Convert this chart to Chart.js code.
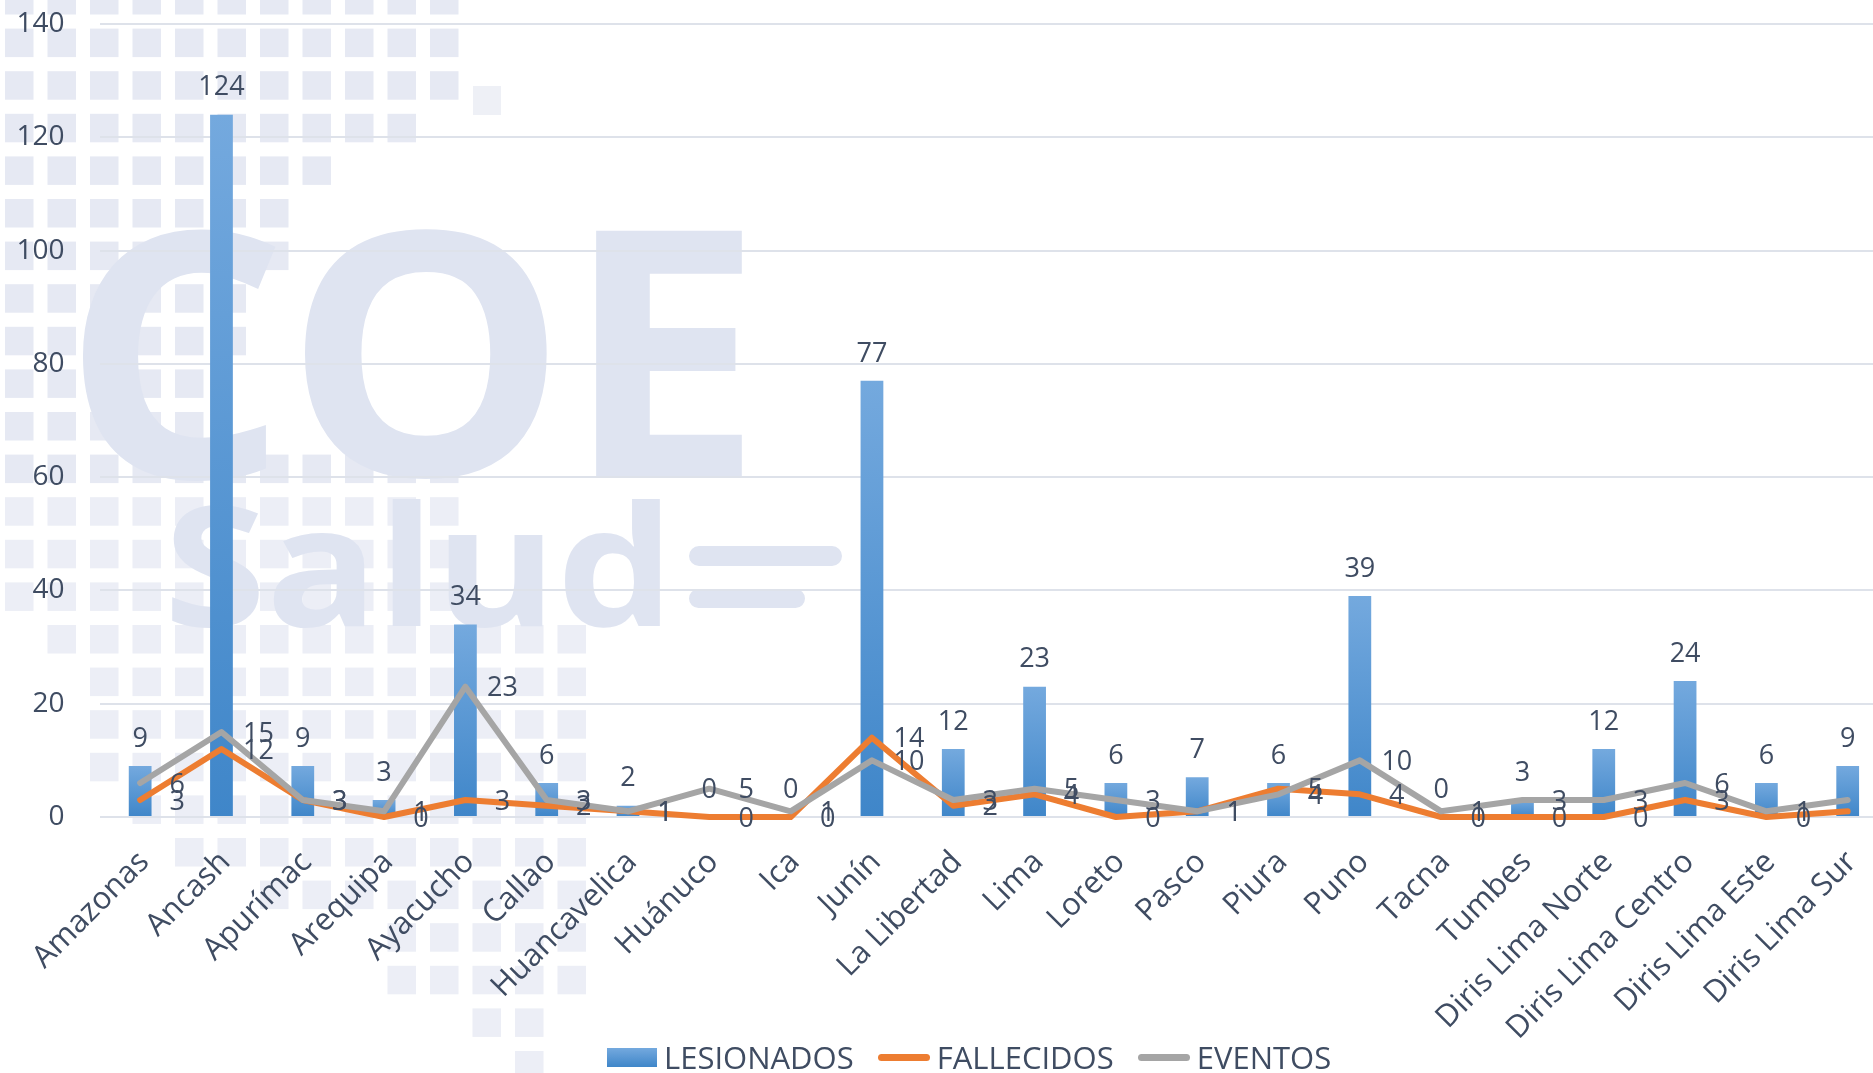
<!DOCTYPE html>
<html><head><meta charset="utf-8">
<script src="https://cdn.jsdelivr.net/npm/chart.js@4.4.1/dist/chart.umd.min.js"></script>
<style>
html,body{margin:0;padding:0;background:#fff;overflow:hidden;width:1873px;height:1073px;}
#wrap{position:relative;width:1893px;height:1073px;}
#c{display:block;}
#legend{position:absolute;left:607px;top:1036px;height:42px;display:flex;align-items:center;font-family:'Open Sans';font-size:31px;line-height:42px;color:#3F4C62;white-space:nowrap;}
#legend .it{display:flex;align-items:center;}
</style></head><body>
<div id="wrap"><canvas id="c" width="1893" height="1073"></canvas><div id="legend"></div></div>
<script>
const categories = ['Amazonas','Ancash','Apurímac','Arequipa','Ayacucho','Callao','Huancavelica','Huánuco','Ica','Junín','La Libertad','Lima','Loreto','Pasco','Piura','Puno','Tacna','Tumbes','Diris Lima Norte','Diris Lima Centro','Diris Lima Este','Diris Lima Sur'];
const lesionados = [9,124,9,3,34,6,2,0,0,77,12,23,6,7,6,39,0,3,12,24,6,9];
const fallecidos = [3,12,3,0,3,2,1,0,0,14,2,4,0,1,5,4,0,0,0,3,0,1];
const eventos    = [6,15,3,1,23,3,1,5,1,10,3,5,3,1,4,10,1,3,3,6,1,3];
const yMin = 0, yMax = 140, yStep = 20;

const TEXT = '#3F4C62';

// decorative watermark (COE Salud logo mosaic)
const mosaic = [[0,0,10],[1,0,10],[2,0,10],[3,0,9],[4,0,7],[5,0,6],[6,0,6],[7,0,5],[8,0,5],[9,0,4],[10,0,4],[11,0,10],[12,0,10],[13,0,10],[14,0,10],[15,1,13],[16,2,13],[17,2,13],[18,2,13],[19,3,13],[20,4,13],[21,6,13],[22,9,13],[23,9,13],[24,11,12],[25,12,12]];
function fitText(c, txt, x0, y0, x1, y1){
  const m = c.measureText(txt);
  const w = m.actualBoundingBoxLeft + m.actualBoundingBoxRight;
  const h = m.actualBoundingBoxAscent + m.actualBoundingBoxDescent;
  c.save(); c.translate(x0, y0); c.scale((x1-x0)/w, (y1-y0)/h);
  c.textAlign='left'; c.textBaseline='alphabetic';
  c.fillText(txt, m.actualBoundingBoxLeft, m.actualBoundingBoxAscent);
  c.restore();
}
const watermark = {
  id:'watermark',
  beforeDraw(chart){
    const c = chart.ctx; c.save();
    mosaic.forEach(([r,a,b])=>{
      c.fillStyle = r < 12 ? '#E6E9F3' : '#ECEEF6';
      for(let k=a;k<=b;k++) c.fillRect(5+42.5*k, -14+42.6*r, 28.5, 28.5);
    });
    c.fillStyle = '#EEF0F6'; c.fillRect(473, 86, 28, 29);
    c.fillStyle = '#DFE4F1';
    c.font = 'bold 300px "Open Sans"';
    fitText(c,'C',79,226,278,483);
    fitText(c,'O',301,226,551,481);
    fitText(c,'E',592,229,747,478);
    c.font = 'bold 180px "Open Sans"';
    fitText(c,'Salud',172,499,660,628);
    c.beginPath(); c.roundRect(689,546,153,20,10); c.roundRect(689,589,116,19,10); c.fill();
    c.restore();
  }
};

function barFill(ctx){
  const chart = ctx.chart;
  if(!chart.chartArea || ctx.type !== 'data') return '#5B9BD5';
  const y = chart.scales.y;
  const top = y.getPixelForValue(ctx.dataset.data[ctx.dataIndex]);
  const bot = y.getPixelForValue(0);
  if (bot - top < 1) return '#5B9BD5';
  const g = chart.ctx.createLinearGradient(0, top, 0, bot);
  g.addColorStop(0,'#74A9DE'); g.addColorStop(1,'#3F86C9');
  return g;
}

const valueLabels = {
  id:'valueLabels',
  afterDatasetsDraw(chart){
    const c = chart.ctx; c.save();
    c.font = '27px "Open Sans"'; c.fillStyle = TEXT; c.textAlign='center'; c.textBaseline='middle';
    chart.data.datasets.forEach((ds,i)=>{
      const meta = chart.getDatasetMeta(i);
      meta.data.forEach((el,j)=>{
        const v = ds.data[j];
        if (ds.type==='bar') c.fillText(String(v), el.x, el.y - 27);
        else c.fillText(String(v), el.x + 37, el.y + 2);
      });
    });
    c.restore();
  }
};

const chart = new Chart(document.getElementById('c'), {
  data:{
    labels: categories,
    datasets:[
      {type:'bar', label:'LESIONADOS', data:lesionados, backgroundColor:barFill, barPercentage:0.28, categoryPercentage:1, order:2},
      {type:'line', label:'FALLECIDOS', data:fallecidos, borderColor:'#ED7D31', backgroundColor:'#ED7D31', borderWidth:6, pointRadius:0, tension:0, order:1, clip:false, borderJoinStyle:'round', borderCapStyle:'round'},
      {type:'line', label:'EVENTOS', data:eventos, borderColor:'#A5A5A5', backgroundColor:'#A5A5A5', borderWidth:6, pointRadius:0, tension:0, order:0, clip:false, borderJoinStyle:'round', borderCapStyle:'round'}
    ]
  },
  options:{
    responsive:false, animation:false, devicePixelRatio:1,
    layout:{padding:{top:24,left:0,right:0,bottom:0}},
    plugins:{legend:{display:false}, tooltip:{enabled:false}},
    scales:{
      x:{
        grid:{display:false}, border:{display:false},
        ticks:{autoSkip:false, maxRotation:45, minRotation:45, padding:19, labelOffset:4, color:TEXT, font:{family:'Open Sans', size:31}},
        afterFit(s){ s.height = 256; }
      },
      y:{
        min:yMin, max:yMax,
        grid:{color:'#DEE2EA', lineWidth:2, drawTicks:true, tickLength:35, tickColor:'rgba(0,0,0,0)'}, border:{display:false},
        ticks:{stepSize:yStep, padding:0, color:TEXT, font:{family:'Open Sans', size:28}},
        afterFit(s){ s.width = 99.5; }
      }
    }
  },
  plugins:[watermark, valueLabels]
});

const legendEl = document.getElementById('legend');
chart.data.datasets.forEach((ds,i)=>{
  const it = document.createElement('div'); it.className='it';
  if(i>0) it.style.marginLeft='24px';
  const sw = document.createElement('div');
  if(ds.type==='bar'){ sw.style.cssText='width:50px;height:19px;background:linear-gradient(#74A9DE,#3F86C9);'; }
  else { sw.style.cssText='width:52px;height:7px;border-radius:4px;background:'+ds.borderColor+';'; }
  sw.style.marginRight='7px';
  const tx = document.createElement('span'); tx.textContent = ds.label;
  it.appendChild(sw); it.appendChild(tx); legendEl.appendChild(it);
});
</script>
</body></html>
